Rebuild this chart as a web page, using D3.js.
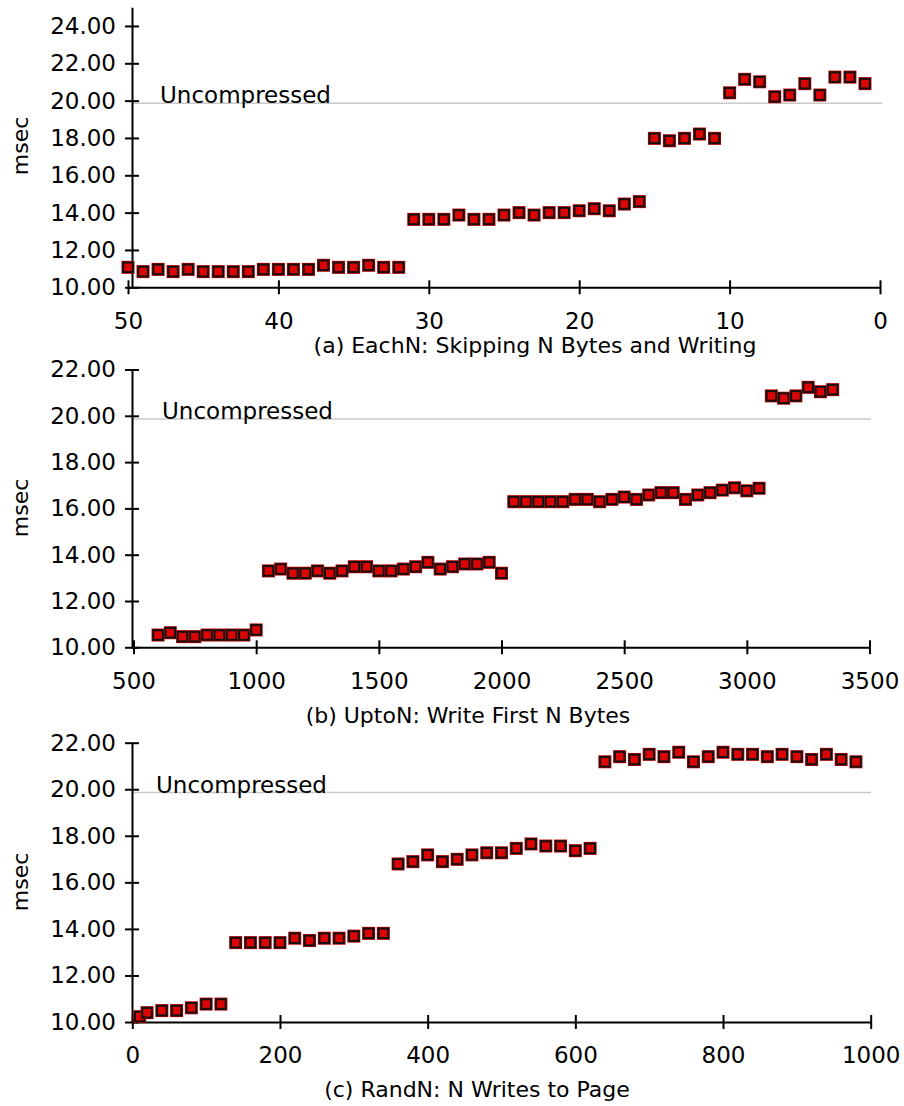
<!DOCTYPE html>
<html>
<head>
<meta charset="utf-8">
<script src="https://cdn.jsdelivr.net/npm/d3@7"></script>
<style>
body{margin:0;background:#fff;}
svg text{font-family:"DejaVu Sans",sans-serif;fill:#000;}
</style>
</head>
<body>
<div id="chart"></div>
<script>
// (a) EachN - N skipped bytes vs msec
var eachN_x = [50,49,48,47,46,45,44,43,42,41,40,39,38,37,36,35,34,33,32,
  31,30,29,28,27,26,25,24,23,22,21,20,19,18,17,16,
  15,14,13,12,11,
  10,9,8,7,6,5,4,3,2,1];
var eachN_ms = [11.07,10.84,10.96,10.84,10.96,10.84,10.84,10.84,10.84,10.96,10.96,10.96,10.96,11.18,11.07,11.07,11.18,11.07,11.07,
  13.64,13.64,13.64,13.87,13.64,13.64,13.87,14.0,13.87,14.0,14.0,14.1,14.21,14.1,14.46,14.59,
  17.98,17.85,17.98,18.21,17.98,
  20.42,21.14,21.01,20.21,20.30,20.91,20.30,21.26,21.26,20.91];

// (b) UptoN - first N bytes written
var uptoN_x = [600,650,700,750,800,850,900,950,1000,
  1050,1100,1150,1200,1250,1300,1350,1400,1450,1500,1550,1600,1650,1700,1750,1800,1850,1900,1950,2000,
  2050,2100,2150,2200,2250,2300,2350,2400,2450,2500,2550,2600,2650,2700,2750,2800,2850,2900,2950,3000,3050,
  3100,3150,3200,3250,3300,3350];
var uptoN_ms = [10.53,10.63,10.46,10.46,10.53,10.53,10.53,10.53,10.75,
  13.30,13.38,13.20,13.20,13.30,13.20,13.30,13.48,13.48,13.30,13.30,13.38,13.48,13.67,13.38,13.48,13.60,13.60,13.67,13.20,
  16.29,16.29,16.29,16.29,16.29,16.39,16.39,16.29,16.39,16.49,16.39,16.58,16.68,16.68,16.39,16.58,16.68,16.79,16.89,16.76,16.87,
  20.86,20.76,20.86,21.23,21.04,21.13];

// (c) RandN - N random writes
var randN_x = [10,20,40,60,80,100,120,
  140,160,180,200,220,240,260,280,300,320,340,
  360,380,400,420,440,460,480,500,520,540,560,580,600,620,
  640,660,680,700,720,740,760,780,800,820,840,860,880,900,920,940,960,980];
var randN_ms = [10.23,10.40,10.49,10.49,10.61,10.77,10.77,
  13.41,13.41,13.41,13.41,13.60,13.50,13.60,13.60,13.69,13.81,13.81,
  16.79,16.89,17.18,16.89,16.99,17.18,17.27,17.27,17.46,17.65,17.56,17.56,17.36,17.46,
  21.18,21.40,21.28,21.50,21.40,21.59,21.18,21.40,21.59,21.50,21.50,21.40,21.50,21.40,21.28,21.50,21.28,21.18];

var eachN_xticks = [50,40,30,20,10,0];
var uptoN_xticks = [500,1000,1500,2000,2500,3000,3500];
var randN_xticks = [0,200,400,600,800,1000];
var eachN_yticks = [10,12,14,16,18,20,22,24];
var small_yticks = [10,12,14,16,18,20,22];

var uncompressed_ms = 19.86;

var captions = ["(a) EachN: Skipping N Bytes and Writing",
  "(b) UptoN: Write First N Bytes",
  "(c) RandN: N Writes to Page"];

var svg = d3.select("#chart").append("svg")
  .attr("width", 904)
  .attr("height", 1106);

var axisX = 132;

function drawPanel(p) {
  var x = d3.scaleLinear().domain(p.xDomain).range(p.xRange);
  var y = d3.scaleLinear().domain(p.yDomain).range(p.yRange);
  var g = svg.append("g");

  // grey reference line for the uncompressed case
  g.append("line")
    .attr("x1", axisX).attr("x2", p.lineEnd)
    .attr("y1", y(uncompressed_ms)).attr("y2", y(uncompressed_ms))
    .attr("stroke", "#c8c8c8")
    .attr("stroke-width", 1.5);
  g.append("text")
    .attr("x", axisX + p.labelDx)
    .attr("y", y(uncompressed_ms))
    .style("font-size", "23px")
    .text("Uncompressed");

  // x axis, ticks cross the line
  var xAxis = d3.axisBottom(x).tickValues(p.xTicks).tickFormat(d3.format("d"))
    .tickSize(7).tickPadding(18).tickSizeOuter(0);
  var gx = g.append("g")
    .attr("transform", "translate(0," + p.yRange[0] + ")")
    .call(xAxis)
    .attr("font-size", 23)
    .attr("font-family", "DejaVu Sans");
  gx.select(".domain").attr("stroke-width", 2);
  gx.selectAll(".tick line").attr("y1", -7).attr("stroke-width", 2);

  // y axis
  var yAxis = d3.axisLeft(y).tickValues(p.yTicks).tickFormat(d3.format(".2f"))
    .tickSize(7).tickPadding(9).tickSizeOuter(0);
  var gy = g.append("g")
    .attr("transform", "translate(" + axisX + ",0)")
    .call(yAxis)
    .attr("font-size", 23)
    .attr("font-family", "DejaVu Sans");
  gy.select(".domain").attr("stroke-width", 2);
  gy.selectAll(".tick line").attr("x1", 7).attr("stroke-width", 2);

  g.append("text")
    .attr("transform", "translate(28," + p.msecY + ") rotate(-90)")
    .attr("text-anchor", "middle")
    .style("font-size", "22px")
    .text("msec");

  g.append("text")
    .attr("x", p.captionX)
    .attr("y", p.captionY)
    .attr("text-anchor", "middle")
    .style("font-size", "22px")
    .text(p.caption);

  // red square markers
  var pts = g.selectAll(".pt")
    .data(p.xs.map(function(d, i) { return {x: d, ms: p.ys[i]}; }))
    .enter().append("g")
    .attr("class", "pt")
    .attr("transform", function(d) { return "translate(" + x(d.x) + "," + y(d.ms) + ")"; });
  pts.append("rect")
    .attr("x", -6.5).attr("y", -6.5).attr("width", 13).attr("height", 13)
    .attr("fill", "#c80000");
  pts.append("rect")
    .attr("x", -4.8).attr("y", -4.8).attr("width", 9.6).attr("height", 9.6)
    .attr("fill", "#dc0505")
    .attr("stroke", "#111")
    .attr("stroke-width", 2);
}

drawPanel({xs: eachN_x, ys: eachN_ms, xDomain: [50, 0], xRange: [128, 880],
  yDomain: [10, 25], yRange: [287.3, 7.3], xTicks: eachN_xticks, yTicks: eachN_yticks,
  lineEnd: 882, labelDx: 28, caption: captions[0], captionX: 535, captionY: 353, msecY: 146});
drawPanel({xs: uptoN_x, ys: uptoN_ms, xDomain: [500, 3500], xRange: [133.5, 869.5],
  yDomain: [10, 22], yRange: [647.3, 369.5], xTicks: uptoN_xticks, yTicks: small_yticks,
  lineEnd: 871, labelDx: 30, caption: captions[1], captionX: 468, captionY: 723, msecY: 508});
drawPanel({xs: randN_x, ys: randN_ms, xDomain: [0, 1000], xRange: [132.3, 870.7],
  yDomain: [10, 22], yRange: [1022, 742.7], xTicks: randN_xticks, yTicks: small_yticks,
  lineEnd: 871, labelDx: 24, caption: captions[2], captionX: 477, captionY: 1097, msecY: 882});
</script>
</body>
</html>
